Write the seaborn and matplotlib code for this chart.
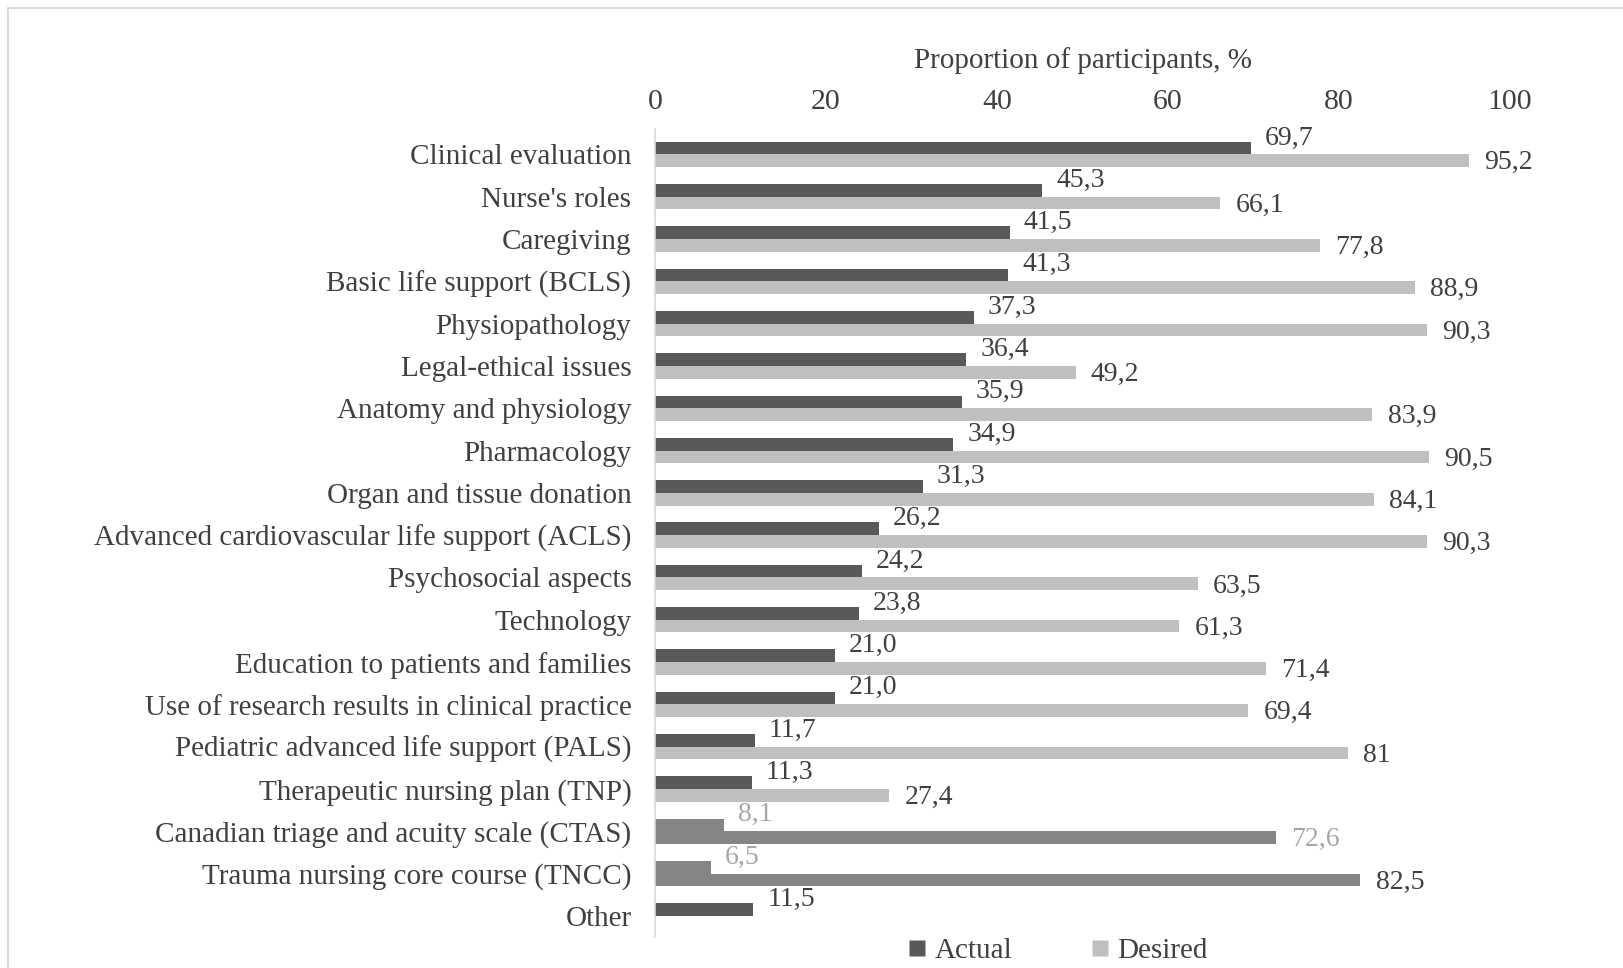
import matplotlib
matplotlib.use("Agg")
import matplotlib.pyplot as plt
import seaborn as sns
import pandas as pd
import numpy as np
from matplotlib.patches import Rectangle
from matplotlib.lines import Line2D

categories = [
    "Clinical evaluation", "Nurse's roles", "Caregiving", "Basic life support (BCLS)",
    "Physiopathology", "Legal-ethical issues", "Anatomy and physiology", "Pharmacology",
    "Organ and tissue donation", "Advanced cardiovascular life support (ACLS)",
    "Psychosocial aspects", "Technology", "Education to patients and families",
    "Use of research results in clinical practice", "Pediatric advanced life support (PALS)",
    "Therapeutic nursing plan (TNP)", "Canadian triage and acuity scale (CTAS)",
    "Trauma nursing core course (TNCC)", "Other",
]
actual = [69.7, 45.3, 41.5, 41.3, 37.3, 36.4, 35.9, 34.9, 31.3, 26.2, 24.2, 23.8,
          21.0, 21.0, 11.7, 11.3, 8.1, 6.5, 11.5]
desired = [95.2, 66.1, 77.8, 88.9, 90.3, 49.2, 83.9, 90.5, 84.1, 90.3, 63.5, 61.3,
           71.4, 69.4, 81.0, 27.4, 72.6, 82.5, np.nan]
actual_labels = ["69,7", "45,3", "41,5", "41,3", "37,3", "36,4", "35,9", "34,9", "31,3",
                 "26,2", "24,2", "23,8", "21,0", "21,0", "11,7", "11,3", "8,1", "6,5", "11,5"]
desired_labels = ["95,2", "66,1", "77,8", "88,9", "90,3", "49,2", "83,9", "90,5", "84,1",
                  "90,3", "63,5", "61,3", "71,4", "69,4", "81", "27,4", "72,6", "82,5", ""]
series = ["Actual", "Desired"]
x_ticks = [0, 20, 40, 60, 80, 100]

sns.set_theme(style="white")
plt.rcParams["font.family"] = ["Liberation Serif", "DejaVu Serif"]

TXT = "#404040"
C_ACT = "#595959"
C_DES = "#bfbfbf"
C_MID = "#858585"
C_LBL_LIGHT = "#a6a6a6"

df = pd.DataFrame({
    "Category": categories * 2,
    "Series": [series[0]] * len(categories) + [series[1]] * len(categories),
    "Value": actual + desired,
})

fig = plt.figure(figsize=(16.23, 9.68), dpi=100)
ax = fig.add_axes([0.4036, 0.032, 0.5268, 0.8347])

sns.barplot(data=df, y="Category", x="Value", hue="Series", order=categories,
            hue_order=series, palette=[C_ACT, C_DES], width=0.6, orient="h",
            ax=ax, legend=False, saturation=1)

# recolour the two special rows (CTAS, TNCC) in medium grey
special = {"Canadian triage and acuity scale (CTAS)", "Trauma nursing core course (TNCC)"}
for cont in ax.containers:
    for i, p in enumerate(cont.patches):
        if categories[i] in special:
            p.set_facecolor(C_MID)
        p.set_edgecolor("none")

ax.set_xlim(0, 100)
ax.set_ylim(len(categories) - 0.5, -0.6)
ax.xaxis.tick_top()
ax.xaxis.set_label_position("top")
ax.set_xticks(x_ticks)
ax.set_xticklabels([str(t) for t in x_ticks], fontsize=21.5, color=TXT)
ax.tick_params(axis="x", length=0, pad=10)
ax.tick_params(axis="y", length=0, pad=17, labelsize=21, labelcolor=TXT)
ax.set_xlabel("Proportion of participants, %", fontsize=21, color=TXT, labelpad=15)
ax.set_ylabel("")
for s in ["top", "right", "bottom"]:
    ax.spines[s].set_visible(False)
ax.spines["left"].set_color("#d9d9d9")
ax.spines["left"].set_linewidth(1.2)
ax.grid(False)

for i, cat in enumerate(categories):
    light = cat in special
    ax.annotate(actual_labels[i], xy=(actual[i], i - 0.39), xytext=(10, 0),
                textcoords="offset points", va="center", ha="left", fontsize=20,
                color=C_LBL_LIGHT if light else TXT)
    if not np.isnan(desired[i]):
        dcol = C_LBL_LIGHT if cat == "Canadian triage and acuity scale (CTAS)" else TXT
        ax.annotate(desired_labels[i], xy=(desired[i], i + 0.2), xytext=(11, 0),
                    textcoords="offset points", va="center", ha="left", fontsize=20,
                    color=dcol)

handles = [Line2D([0], [0], marker="s", linestyle="none", markersize=12,
                  markerfacecolor=C_ACT, markeredgecolor="none"),
           Line2D([0], [0], marker="s", linestyle="none", markersize=12,
                  markerfacecolor=C_DES, markeredgecolor="none")]
fig.legend(handles, series, loc="center", bbox_to_anchor=(0.651, 0.018), ncol=2,
           frameon=False, fontsize=21, handletextpad=0.2, columnspacing=2.6,
           labelcolor=TXT, handlelength=0.8)

fig.patches.append(Rectangle((0.005, -0.01), 1.1, 1.002, transform=fig.transFigure,
                             fill=False, edgecolor="#dcdcdc", linewidth=1.5))

fig.savefig("out.png", dpi=100, facecolor="white")
